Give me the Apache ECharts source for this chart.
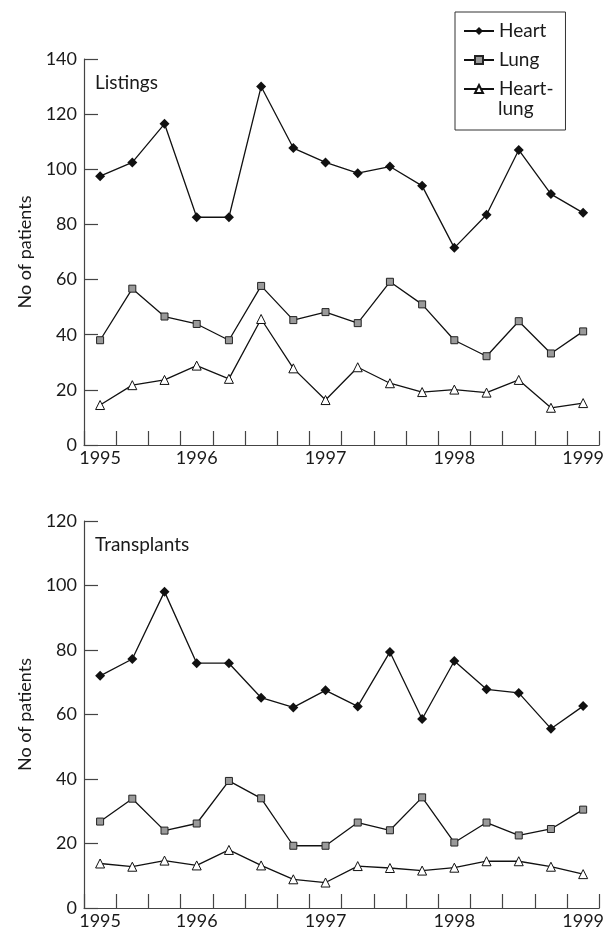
<!DOCTYPE html>
<html>
<head>
<meta charset="utf-8">
<script src="https://cdn.jsdelivr.net/npm/echarts@6/dist/echarts.min.js"></script>
<style>
html,body{margin:0;padding:0;background:#fff;}
#chart{width:607px;height:933px;}
</style>
</head>
<body>
<div id="chart"></div>
<script>
// ---- data ----
const periods = ['1995a','1995b','1995c','1996a','1996b','1996c','1996d','1997a','1997b','1997c','1997d','1998a','1998b','1998c','1998d','1999a'];
const yearLabels = ['1995','','','1996','','','','1997','','','','1998','','','','1999'];

const listHeart     = [97.5, 102.5, 116.5, 82.6, 82.6, 130, 107.7, 102.5, 98.6, 101, 94, 71.5, 83.5, 107, 91, 84.2];
const listLung      = [38, 56.7, 46.6, 43.9, 38, 57.7, 45.3, 48.2, 44.2, 59.2, 51, 38, 32.2, 44.9, 33.2, 41.2];
const listHeartLung = [14.5, 21.7, 23.6, 28.8, 24, 45.7, 27.8, 16.3, 28.2, 22.4, 19.2, 20.1, 19, 23.6, 13.5, 15.2];

const txHeart     = [72, 77.2, 98.1, 75.9, 75.9, 65.2, 62.2, 67.5, 62.5, 79.4, 58.6, 76.6, 67.8, 66.7, 55.6, 62.6];
const txLung      = [26.8, 33.9, 24, 26.2, 39.4, 34, 19.3, 19.3, 26.5, 24.1, 34.3, 20.3, 26.5, 22.5, 24.5, 30.5];
const txHeartLung = [13.8, 12.8, 14.7, 13.2, 18, 13.2, 8.9, 7.9, 13, 12.4, 11.6, 12.5, 14.5, 14.5, 12.8, 10.5];

const yTicksTop = [0, 140, 20];
const yTicksBottom = [0, 120, 20];

// ---- chart ----
const FONT = 'Lato';
const AX = '#444';
const chart = echarts.init(document.getElementById('chart'), null, {renderer: 'canvas'});

function xAxis(gi) {
  return {
    type: 'category', gridIndex: gi, data: periods, boundaryGap: true,
    axisLine: {lineStyle: {color: AX, width: 1.2}},
    axisTick: {show: true, inside: true, length: 14, interval: 0, lineStyle: {color: AX, width: 1.2}},
    axisLabel: {
      interval: 0, margin: 4, color: '#1a1a1a', fontFamily: FONT, fontSize: 18,
      formatter: (v, i) => yearLabels[i]
    },
    splitLine: {show: false}
  };
}
function yAxis(gi, t, gap) {
  return {
    type: 'value', gridIndex: gi, min: t[0], max: t[1], interval: t[2],
    name: 'No of patients', nameLocation: 'middle', nameGap: 50, nameRotate: 90,
    nameTextStyle: {fontFamily: FONT, fontSize: 18, color: '#1a1a1a'},
    axisLine: {show: true, lineStyle: {color: AX, width: 1.2}},
    axisTick: {show: true, inside: true, length: 14, lineStyle: {color: AX, width: 1.2}},
    axisLabel: {margin: 7, color: '#1a1a1a', fontFamily: FONT, fontSize: 18},
    splitLine: {show: false}
  };
}
const lineStyle = {color: '#111', width: 1.3};
function heart(gi, d) {
  return {name: 'Heart', type: 'line', xAxisIndex: gi, yAxisIndex: gi, data: d,
    symbol: 'diamond', symbolSize: 10, lineStyle: lineStyle,
    itemStyle: {color: '#111'}, animation: false};
}
function lung(gi, d) {
  return {name: 'Lung', type: 'line', xAxisIndex: gi, yAxisIndex: gi, data: d,
    symbol: 'rect', symbolSize: 7, lineStyle: lineStyle,
    itemStyle: {color: '#9a9a9a', borderColor: '#222', borderWidth: 1}, animation: false};
}
function hl(gi, d) {
  return {name: 'Heart-lung', type: 'line', xAxisIndex: gi, yAxisIndex: gi, data: d,
    symbol: 'triangle', symbolSize: 9, lineStyle: lineStyle,
    itemStyle: {color: '#fff', borderColor: '#111', borderWidth: 1}, animation: false};
}

chart.setOption({
  animation: false,
  backgroundColor: '#fff',
  textStyle: {fontFamily: FONT},
  title: [
    {text: 'Listings', left: 95, top: 73, textStyle: {fontFamily: FONT, fontSize: 19, fontWeight: 'normal', color: '#1a1a1a'}, padding: 0},
    {text: 'Transplants', left: 95, top: 535, textStyle: {fontFamily: FONT, fontSize: 19, fontWeight: 'normal', color: '#1a1a1a'}, padding: 0}
  ],
  legend: {
    orient: 'vertical', left: 455, top: 12,
    padding: [7, 12, 29, 8],
    borderColor: '#333', borderWidth: 1,
    itemWidth: 30, itemHeight: 10, itemGap: 5,
    textStyle: {fontFamily: FONT, fontSize: 19, color: '#1a1a1a', lineHeight: 24},
    formatter: n => n === 'Heart-lung' ? 'Heart-' : n,
    data: ['Heart', 'Lung', 'Heart-lung']
  },
  graphic: [
    {type: 'text', x: 498, y: 99, silent: true,
     style: {text: 'lung', font: '19px Lato', fill: '#1a1a1a', textVerticalAlign: 'top'}}
  ],
  grid: [
    {left: 84, top: 59, width: 516, height: 386},
    {left: 84, top: 521, width: 516, height: 387}
  ],
  xAxis: [xAxis(0), xAxis(1)],
  yAxis: [yAxis(0, yTicksTop), yAxis(1, yTicksBottom)],
  series: [
    heart(0, listHeart), lung(0, listLung), hl(0, listHeartLung),
    heart(1, txHeart), lung(1, txLung), hl(1, txHeartLung)
  ]
});
</script>
</body>
</html>
